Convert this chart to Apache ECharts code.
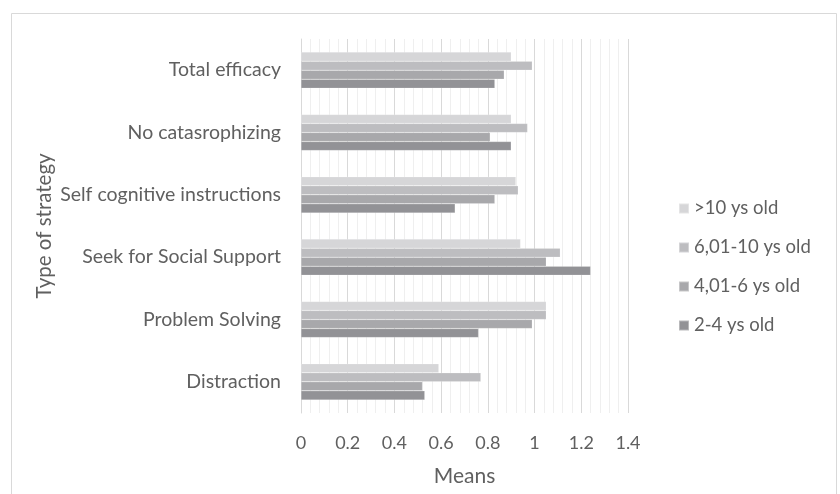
<!DOCTYPE html>
<html>
<head>
<meta charset="utf-8">
<script src="https://cdn.jsdelivr.net/npm/echarts@6/dist/echarts.min.js"></script>
<style>
  html, body { margin: 0; padding: 0; background: #ffffff; }
  #chart { width: 840px; height: 494px; }
</style>
</head>
<body>
<div id="chart"></div>
<script>
// Strategies, listed bottom to top along the category axis
const strategies = [
  'Distraction',
  'Problem Solving',
  'Seek for Social Support',
  'Self cognitive instructions',
  'No catasrophizing',
  'Total efficacy'
];

// Mean scores per age group (same order as strategies)
const ageOver10 = [0.59, 1.05, 0.94, 0.92, 0.90, 0.90];
const age6to10  = [0.77, 1.05, 1.11, 0.93, 0.97, 0.99];
const age4to6   = [0.52, 0.99, 1.05, 0.83, 0.81, 0.87];
const age2to4   = [0.53, 0.76, 1.24, 0.66, 0.90, 0.83];

// Series go top to bottom inside each category band
const groupNames = ['>10 ys old', '6,01-10 ys old', '4,01-6 ys old', '2-4 ys old'];
const groups = [ageOver10, age6to10, age4to6, age2to4];
const palette = ['#d6d6d8', '#bdbdc0', '#a8a8ab', '#929296'];

const FONT = 'Lato';
const TEXT = '#606060';

const chart = echarts.init(document.getElementById('chart'), null, { renderer: 'canvas' });

chart.setOption({
  animation: false,
  backgroundColor: '#ffffff',
  textStyle: { fontFamily: FONT },
  graphic: [{
    type: 'rect',
    shape: { x: 11.5, y: 13.5, width: 825, height: 490 },
    style: { fill: 'none', stroke: '#d9d9d9', lineWidth: 1 },
    silent: true
  }],
  grid: { left: 301, top: 39, width: 327, height: 374, containLabel: false },
  legend: {
    data: groupNames,
    orient: 'vertical',
    left: 673,
    top: 194,
    itemWidth: 10,
    itemHeight: 10,
    itemGap: 20,
    icon: 'rect',
    textStyle: { color: TEXT, fontSize: 18.5, fontFamily: FONT }
  },
  xAxis: {
    type: 'value',
    min: 0,
    max: 1.4,
    interval: 0.2,
    name: 'Means',
    nameLocation: 'middle',
    nameGap: 53,
    nameTextStyle: { color: TEXT, fontSize: 21, fontFamily: FONT },
    axisLine: { show: false },
    axisTick: { show: false },
    axisLabel: { color: TEXT, fontSize: 18, margin: 21, fontFamily: FONT },
    splitLine: { show: true, lineStyle: { color: '#d9d9d9', width: 1 } },
    minorTick: { show: false, splitNumber: 5 },
    minorSplitLine: { show: true, lineStyle: { color: '#efefef', width: 1 } }
  },
  yAxis: {
    type: 'category',
    data: strategies,
    name: 'Type of strategy',
    nameLocation: 'middle',
    nameGap: 246,
    nameRotate: 90,
    nameTextStyle: { color: TEXT, fontSize: 20.5, fontFamily: FONT },
    axisLine: { show: true, lineStyle: { color: '#d9d9d9', width: 1 } },
    axisTick: { show: false },
    axisLabel: { color: TEXT, fontSize: 19.5, margin: 20, fontFamily: FONT },
    splitLine: { show: false }
  },
  series: groupNames.map((name, i) => ({
    name: name,
    type: 'bar',
    data: groups[i],
    barGap: '0%',
    barCategoryGap: '42%',
    itemStyle: { color: palette[i], borderColor: 'rgba(255,255,255,0.35)', borderWidth: 0.5 },
    emphasis: { disabled: true }
  }))
});
</script>
</body>
</html>
